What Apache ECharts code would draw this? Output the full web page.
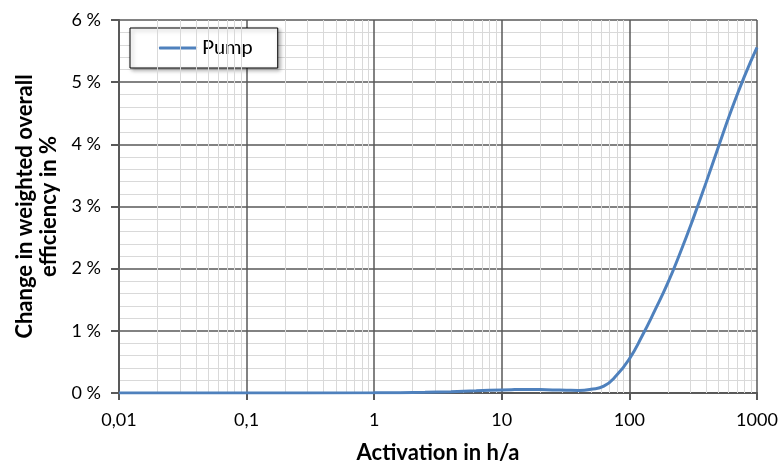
<!DOCTYPE html>
<html>
<head>
<meta charset="utf-8">
<script src="https://cdn.jsdelivr.net/npm/echarts@6/dist/echarts.min.js"></script>
<style>
  html, body { margin: 0; padding: 0; background: #fff; }
  #chart { width: 778px; height: 465px; }
</style>
</head>
<body>
<div id="chart"></div>
<script>
// activation in h/a and change of efficiency in %
const activation = [0.01, 0.1, 1, 1.6, 2.5, 4, 6.3, 10, 12.6, 15.8, 20, 25, 32, 40, 50, 63, 79, 100, 126, 158, 200, 251, 316, 398, 501, 631, 794, 1000];
const pumpEfficiency = [0, 0, 0.003, 0.006, 0.012, 0.022, 0.035, 0.05, 0.055, 0.058, 0.055, 0.05, 0.045, 0.042, 0.06, 0.11, 0.28, 0.55, 0.92, 1.325, 1.77, 2.265, 2.805, 3.38, 3.975, 4.555, 5.085, 5.56];
const xTickLabels = ['0,01', '0,1', '1', '10', '100', '1000'];
const minorGrid = [];
[0.01, 0.1, 1, 10, 100].forEach((d) => {
  for (let k = 2; k <= 9; k++) minorGrid.push(d * k);
});

const font = 'Lato, "Open Sans", sans-serif';
const chart = echarts.init(document.getElementById('chart'));

const option = {
  animation: false,
  grid: { left: 119, right: 21, top: 20, bottom: 72, outerBoundsMode: 'none' },
  legend: {
    data: ['Pump'],
    left: 130,
    top: 28,
    padding: [10, 25, 10, 29],
    icon: 'roundRect',
    itemWidth: 38,
    itemHeight: 3,
    backgroundColor: '#fff',
    borderColor: '#000',
    borderWidth: 1,
    borderRadius: 0,
    shadowColor: 'rgba(0,0,0,0.35)',
    shadowBlur: 4,
    shadowOffsetX: 2,
    shadowOffsetY: 2,
    textStyle: { fontFamily: font, fontSize: 20, color: '#000' },
  },
  xAxis: {
    type: 'log',
    logBase: 10,
    min: 0.01,
    max: 1000,
    interval: 1,
    name: 'Activation in h/a',
    nameLocation: 'middle',
    nameGap: 49,
    nameTextStyle: { fontFamily: font, fontSize: 22, fontWeight: 'bold', color: '#000' },
    axisLine: { lineStyle: { color: '#595959', width: 2 } },
    axisTick: { show: true, length: 7, lineStyle: { color: '#595959', width: 2 } },
    axisLabel: {
      fontFamily: font,
      fontSize: 18,
      color: '#000',
      margin: 18,
      formatter: (v) => xTickLabels[Math.round(Math.log10(v)) + 2],
    },
    splitLine: { show: true, lineStyle: { color: '#595959', width: 1.5 } },
    minorTick: { show: false },
    minorSplitLine: { show: false },
  },
  yAxis: {
    type: 'value',
    min: 0,
    max: 6,
    interval: 1,
    name: 'Change in weighted overall\nefficiency in %',
    nameLocation: 'middle',
    nameRotate: 90,
    nameGap: 38,
    nameTextStyle: { fontFamily: font, fontSize: 22, fontWeight: 'bold', color: '#000', lineHeight: 24, align: 'center' },
    axisLine: { show: true, lineStyle: { color: '#595959', width: 2 } },
    axisTick: { show: true, length: 8, lineStyle: { color: '#595959', width: 2 } },
    axisLabel: {
      fontFamily: font,
      fontSize: 18,
      color: '#000',
      margin: 18,
      formatter: (v) => v + ' %',
    },
    splitLine: { show: true, lineStyle: { color: '#595959', width: 1.5 } },
    minorTick: { show: false, splitNumber: 5 },
    minorSplitLine: { show: true, lineStyle: { color: '#d9d9d9', width: 1 } },
  },
  series: [
    {
      name: 'minor',
      type: 'line',
      data: [],
      z: -1,
      silent: true,
      markLine: {
        silent: true,
        symbol: 'none',
        label: { show: false },
        lineStyle: { color: '#d9d9d9', width: 1, type: 'solid' },
        data: minorGrid.map((v) => ({ xAxis: v })),
      },
    },
    {
      name: 'Pump',
      type: 'line',
      smooth: true,
      symbol: 'none',
      lineStyle: { color: '#4f81bd', width: 3 },
      itemStyle: { color: '#4f81bd' },
      data: activation.map((x, i) => [x, pumpEfficiency[i]]),
      z: 5,
    },
  ],
};

chart.setOption(option);
</script>
</body>
</html>
